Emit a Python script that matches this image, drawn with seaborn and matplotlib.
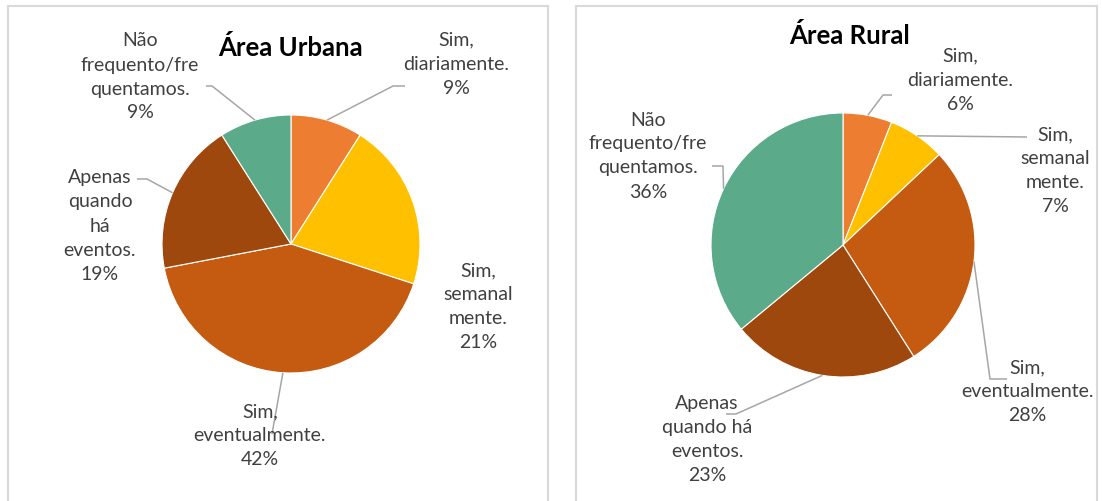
import numpy as np
import matplotlib
matplotlib.use("Agg")
import matplotlib.pyplot as plt
import seaborn as sns

# Data
categories = ["Sim, diariamente.", "Sim, semanalmente.", "Sim, eventualmente.",
              "Apenas quando há eventos.", "Não frequento/frequentamos."]
urbana = [9, 21, 42, 19, 9]
rural = [6, 7, 28, 23, 36]

# wrapped label texts as they appear in each chart
urbana_txt = ["Sim,\ndiariamente.", "Sim,\nsemanal\nmente.", "Sim,\neventualmente.",
              "Apenas\nquando\nhá\neventos.", "Não\nfrequento/fre\nquentamos."]
rural_txt = ["Sim,\ndiariamente.", "Sim,\nsemanal\nmente.", "Sim,\neventualmente.",
             "Apenas\nquando há\neventos.", "Não\nfrequento/fre\nquentamos."]

colors = ["#ED7D31", "#FFC000", "#C55A11", "#9E480E", "#5BAA8A"]

sns.set_theme(style="white")
plt.rcParams['font.family'] = ['Lato', 'DejaVu Sans']

W, H = 1102, 502
fig = plt.figure(figsize=(W / 100, H / 100), dpi=100)

# panel layout in pixels (y measured upward from bottom of image)
panels = [
    dict(x0=8, x1=548, title="Área Urbana", title_xy=(290, 454),
         center=(291, 257), r=129, values=urbana, texts=urbana_txt,
         label_xy=[(456, 438), (478, 195), (260, 66), (100, 276), (140, 425)],
         leader=[[(393, 415), (405, 415)], None, [(272, 67)],
                 [(147, 322), (137, 322)], [(212, 415), (206, 415)]]),
    dict(x0=576, x1=1097, title="Área Rural", title_xy=(850, 466),
         center=(843, 256), r=132, values=rural, texts=rural_txt,
         label_xy=[(960, 422), (1055, 331), (1027, 110), (707, 62), (648, 346)],
         leader=[[(883, 406), (892, 406)], [(1027, 364)], [(990, 122), (1007, 122)],
                 [(736, 87), (726, 87)], [(723, 335), (712, 335)]]),
]

for p in panels:
    top = 495
    ax = fig.add_axes([p["x0"] / W, 0, (p["x1"] - p["x0"]) / W, top / H])
    wedges, _ = ax.pie(p["values"], colors=colors, startangle=90, counterclock=False,
                       center=p["center"], radius=p["r"], frame=True,
                       wedgeprops=dict(edgecolor="white", linewidth=0.8))
    ax.set_xlim(p["x0"], p["x1"])
    ax.set_ylim(0, top)
    ax.set_xticks([])
    ax.set_yticks([])
    for side in ["left", "right", "top"]:
        ax.spines[side].set_color("#d9d9d9")
        ax.spines[side].set_linewidth(1.5)
    ax.spines["bottom"].set_visible(False)

    ax.text(p["title_xy"][0], p["title_xy"][1], p["title"], ha="center", va="center",
            fontsize=18.5, fontweight="bold", color="black")

    cx, cy = p["center"]
    for w, txt, v, xy, ld in zip(wedges, p["texts"], p["values"], p["label_xy"], p["leader"]):
        ax.text(xy[0], xy[1], f"{txt}\n{v}%", ha="center", va="center",
                fontsize=14, color="#404040", linespacing=1.5)
        if ld is None:
            continue
        ang = np.deg2rad((w.theta1 + w.theta2) / 2)
        start = (cx + p["r"] * np.cos(ang), cy + p["r"] * np.sin(ang))
        pts = [start] + ld
        ax.plot([q[0] for q in pts], [q[1] for q in pts], color="#a6a6a6", lw=1.1,
                solid_capstyle="butt")

fig.savefig("out.png", dpi=100)
